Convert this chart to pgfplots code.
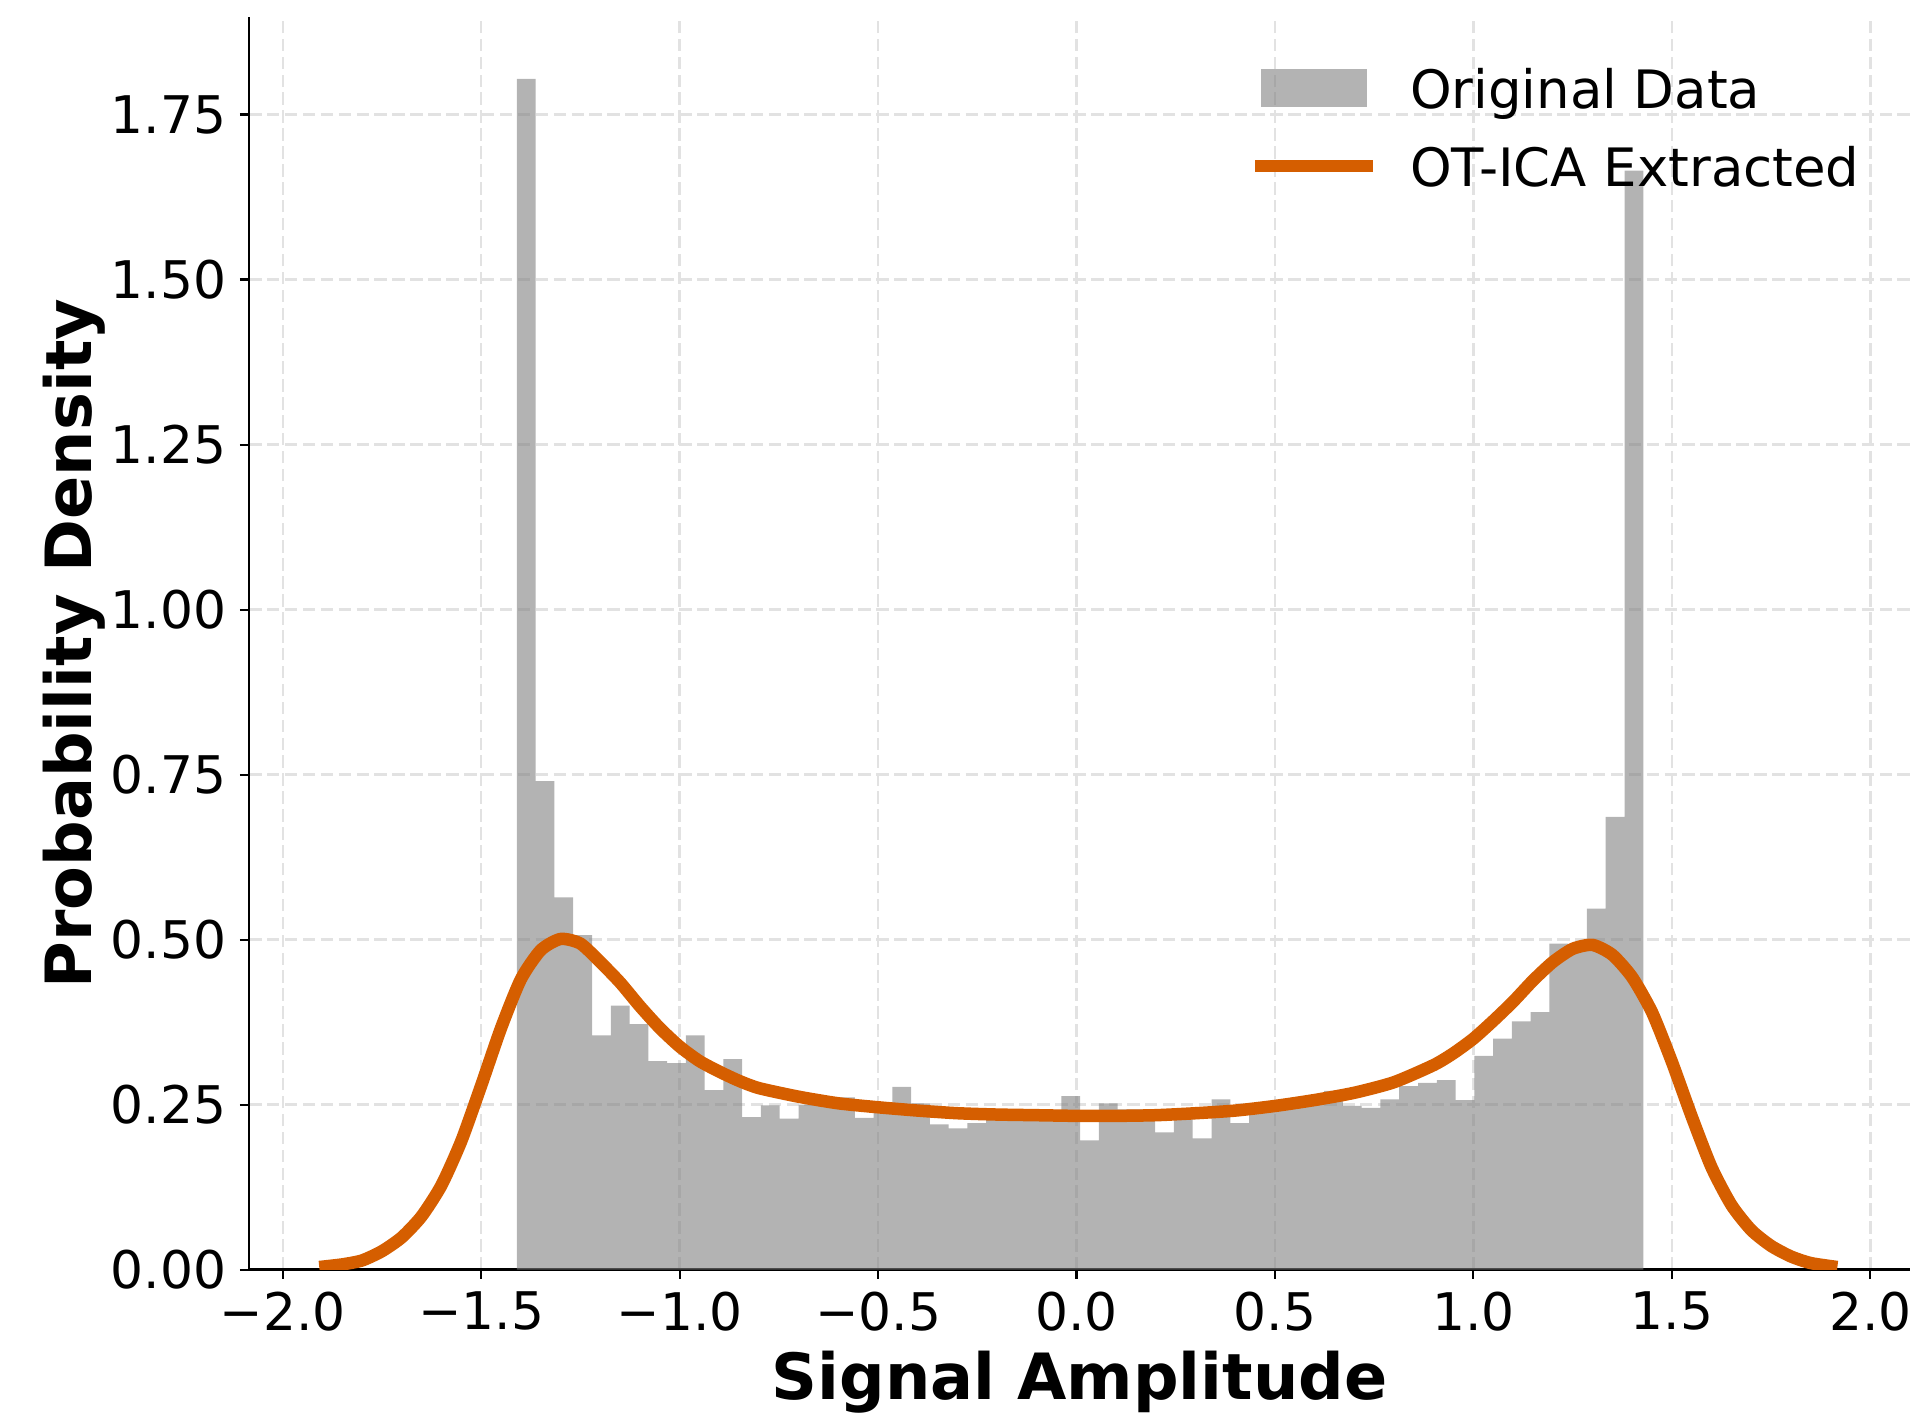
\documentclass[border=0pt]{standalone}
\usepackage{fontspec}
\setmainfont{DejaVu Sans}
\usepackage{pgfplots}
\usepackage{pgfplotstable}
\pgfplotsset{compat=1.18}
\definecolor{kde}{RGB}{213,94,0}
\definecolor{gridc}{RGB}{226,226,226}

\pgfplotstableread{
x y
-1.4100 1.804
-1.3627 0.740
-1.3154 0.564
-1.2681 0.507
-1.2208 0.355
-1.1735 0.400
-1.1262 0.372
-1.0789 0.316
-1.0316 0.313
-0.9843 0.355
-0.9370 0.272
-0.8897 0.319
-0.8424 0.231
-0.7951 0.249
-0.7478 0.229
-0.7005 0.250
-0.6532 0.258
-0.6059 0.261
-0.5586 0.230
-0.5113 0.240
-0.4640 0.277
-0.4167 0.252
-0.3694 0.220
-0.3221 0.214
-0.2748 0.222
-0.2275 0.232
-0.1802 0.232
-0.1329 0.230
-0.0856 0.233
-0.0383 0.263
0.0090 0.196
0.0563 0.252
0.1036 0.243
0.1509 0.243
0.1982 0.208
0.2455 0.232
0.2928 0.199
0.3401 0.258
0.3874 0.222
0.4347 0.238
0.4820 0.245
0.5293 0.255
0.5766 0.261
0.6239 0.271
0.6712 0.248
0.7185 0.245
0.7658 0.258
0.8131 0.278
0.8604 0.283
0.9077 0.287
0.9550 0.257
1.0023 0.324
1.0496 0.350
1.0969 0.376
1.1442 0.390
1.1915 0.494
1.2388 0.485
1.2861 0.547
1.3334 0.686
1.3807 1.665
1.4280 1.665
}\histdata

\pgfplotstableread{
x y
-1.908 0.004
-1.85 0.008
-1.80 0.014
-1.75 0.028
-1.70 0.049
-1.65 0.081
-1.60 0.128
-1.55 0.195
-1.50 0.279
-1.45 0.366
-1.40 0.440
-1.35 0.484
-1.30 0.501
-1.25 0.494
-1.20 0.466
-1.15 0.435
-1.10 0.399
-1.05 0.366
-1.00 0.338
-0.95 0.316
-0.90 0.300
-0.85 0.286
-0.80 0.275
-0.70 0.262
-0.60 0.252
-0.50 0.246
-0.40 0.241
-0.30 0.237
-0.20 0.235
-0.10 0.234
0.00 0.233
0.10 0.233
0.20 0.234
0.30 0.237
0.40 0.241
0.50 0.248
0.60 0.257
0.70 0.268
0.80 0.284
0.90 0.310
0.95 0.328
1.00 0.350
1.05 0.377
1.10 0.406
1.15 0.438
1.20 0.466
1.25 0.486
1.30 0.492
1.35 0.477
1.40 0.443
1.45 0.390
1.50 0.315
1.55 0.232
1.60 0.155
1.65 0.098
1.70 0.060
1.75 0.036
1.80 0.020
1.85 0.010
1.917 0.004
}\kdedata

\begin{document}
\begin{tikzpicture}
\begin{axis}[
  scale only axis,
  width=398.6pt, height=300.5pt,
  xmin=-2.085, xmax=2.10, ymin=0, ymax=1.897,
  axis x line*=bottom, axis y line*=left,
  axis line style={-, black, line width=0.6pt},
  tick align=outside,
  major tick length=2.2pt,
  tick style={black, line width=0.5pt},
  xtick={-2,-1.5,-1,-0.5,0,0.5,1,1.5,2},
  xticklabels={−2.0,−1.5,−1.0,−0.5,0.0,0.5,1.0,1.5,2.0},
  ytick={0,0.25,0.5,0.75,1,1.25,1.5,1.75},
  yticklabels={0.00,0.25,0.50,0.75,1.00,1.25,1.50,1.75},
  tick label style={font=\fontsize{12.45}{14}\selectfont},
  xticklabel style={anchor=north, inner sep=0pt, yshift=-3.0pt},
  yticklabel style={anchor=east, inner sep=0pt, xshift=-3.1pt},
  grid=major,
  major grid style={gridc, dash pattern=on 3pt off 1.3pt, line width=0.6pt},
  xlabel={Signal Amplitude},
  ylabel={Probability Density},
  every axis x label/.style={at={(axis description cs:0.5,-0.1038)}, anchor=base, inner sep=0pt, font=\fontsize{15.3}{18}\selectfont\bfseries},
  every axis y label/.style={at={(axis description cs:-0.0946,0.5)}, rotate=90, anchor=base, inner sep=0pt, font=\fontsize{15.3}{18}\selectfont\bfseries},
  legend style={draw=none, fill=none, at={(axis description cs:0.6057,0.9595)}, anchor=north west,
    inner sep=0pt, outer sep=0pt, font=\fontsize{12.7}{15}\selectfont,
    row sep=7.5pt, column sep=8.8pt, nodes={inner sep=0pt}},
  legend cell align=left,
]
\addplot[ybar interval, fill=gray, fill opacity=0.6, draw=none,
  legend image code/.code={\fill[gray, fill opacity=0.6] (0pt,-3.75pt) rectangle (25.4pt,5.35pt);}]
  table[x=x,y=y]{\histdata};
\addlegendentry{Original Data}
\addplot[kde, line width=3pt, line join=round, smooth, tension=0.4, no markers,
  legend image code/.code={\draw[kde, line width=3pt, line cap=rect] (0pt,0.8pt) -- (25.4pt,0.8pt);}]
  table[x=x,y=y]{\kdedata};
\addlegendentry{OT-ICA Extracted}
\end{axis}
\path (current axis.south west) ++(-59.76pt,-34.8pt);
\path (current axis.north east) ++(3.84pt,4.2pt);
\end{tikzpicture}
\end{document}
